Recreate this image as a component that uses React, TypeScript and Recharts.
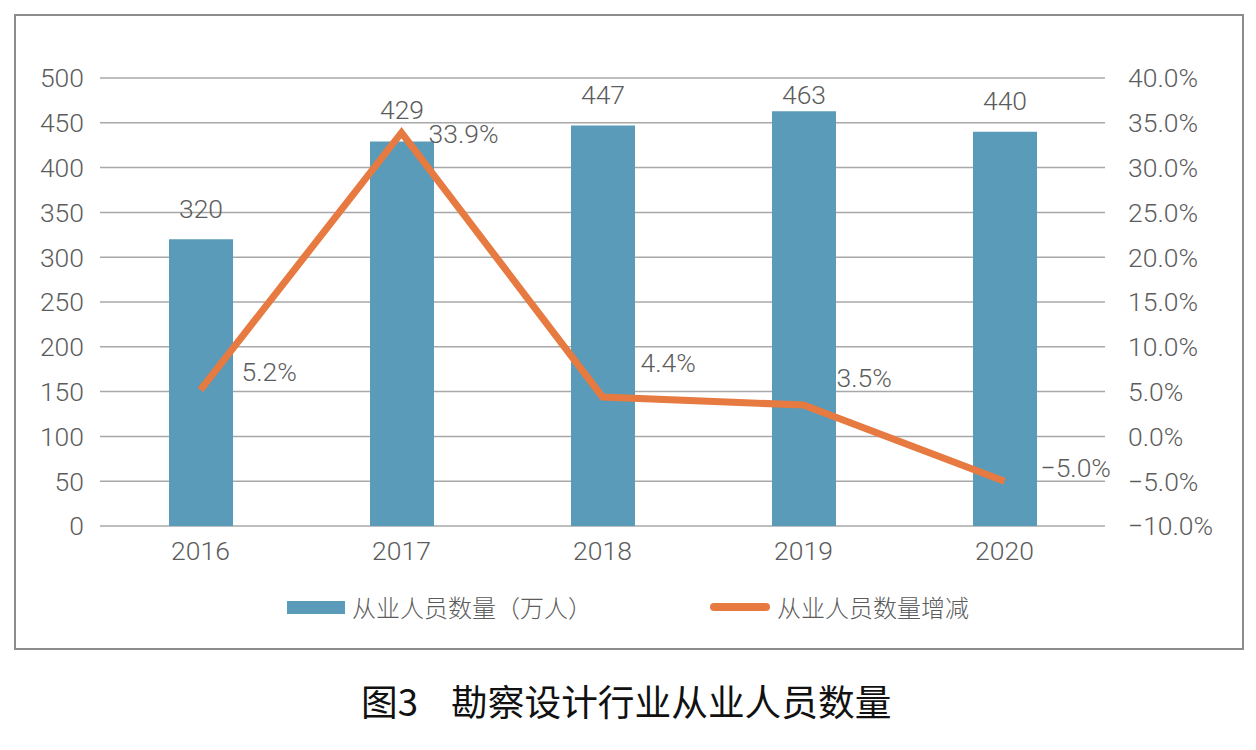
import React from 'react';
import { ComposedChart, Bar, Line, XAxis, YAxis, CartesianGrid, LabelList } from 'recharts';

const years = ['2016', '2017', '2018', '2019', '2020'];
const employees = [320, 429, 447, 463, 440];
const growth = [5.2, 33.9, 4.4, 3.5, -5.0];
const leftTicks = [0, 50, 100, 150, 200, 250, 300, 350, 400, 450, 500];
const rightTicks = [-10, -5, 0, 5, 10, 15, 20, 25, 30, 35, 40];

const barName = '从业人员数量（万人）';
const lineName = '从业人员数量增减';
const titleFig = '图3';
const titleText = '勘察设计行业从业人员数量';

// label offsets (styling only)
const growthLabelDx = [41, 27, 38, 33, 36];
const growthLabelDy = [-18, 1, -34, -28, -14];
const barLabelDy = [-31, -32, -31, -17, -31];

const data = years.map((y, i) => ({ year: y, emp: employees[i], gr: growth[i] }));

const BAR_COLOR = '#5A9BBA';
const LINE_COLOR = '#E67A40';
const TEXT_COLOR = '#5c5c5c';
const FONT = 'Roboto, "Liberation Sans", sans-serif';

const fmtPct = (v: number) => (v < 0 ? '\u2212' : '') + Math.abs(v).toFixed(1) + '%';

const GrowthLabel = (props: any) => {
  const { x, y, index, value } = props;
  return (
    <text
      x={x + growthLabelDx[index]}
      y={y + growthLabelDy[index]}
      dominantBaseline="central"
      textAnchor="start"
      fill={TEXT_COLOR}
      fontSize={26.5}
      fontWeight={300}
      fontFamily={FONT}
    >
      {fmtPct(value)}
    </text>
  );
};

const BarLabel = (props: any) => {
  const { x, y, width, index, value } = props;
  return (
    <text
      x={x + width / 2}
      y={y + barLabelDy[index]}
      dominantBaseline="central"
      textAnchor="middle"
      fill={TEXT_COLOR}
      fontSize={26.5}
      fontWeight={300}
      fontFamily={FONT}
    >
      {value}
    </text>
  );
};

const tickStyle = { fill: TEXT_COLOR, fontSize: 26.5, fontWeight: 300, fontFamily: FONT };

export default function App() {
  return (
    <div style={{ position: 'absolute', left: 0, top: 0, width: 1256, height: 750, background: '#fff' }}>
      <div
        style={{
          position: 'absolute',
          left: 14,
          top: 14,
          width: 1226,
          height: 632,
          border: '2px solid #8c8c8c',
        }}
      />
      <div style={{ position: 'absolute', left: 0, top: 0 }}>
        <ComposedChart
          width={1256}
          height={750}
          data={data}
          margin={{ top: 78, right: 0, left: 0, bottom: 194 }}
        >
          <CartesianGrid yAxisId="left" vertical={false} stroke="#a8a8a8" strokeWidth={1.5} />
          <XAxis
            dataKey="year"
            axisLine={false}
            tickLine={false}
            tickSize={0}
            tickMargin={15}
            height={30}
            tick={tickStyle}
          />
          <YAxis
            yAxisId="left"
            width={100}
            domain={[0, 500]}
            ticks={leftTicks}
            axisLine={false}
            tickLine={false}
            tickSize={0}
            tickMargin={16}
            tick={tickStyle}
          />
          <YAxis
            yAxisId="right"
            orientation="right"
            width={151}
            domain={[-10, 40]}
            ticks={rightTicks}
            axisLine={false}
            tickLine={false}
            tickSize={0}
            tickMargin={23}
            tickFormatter={fmtPct}
            tick={{ ...tickStyle, textAnchor: 'start' }}
          />
          <Bar yAxisId="left" dataKey="emp" fill={BAR_COLOR} barSize={64} isAnimationActive={false}>
            <LabelList dataKey="emp" content={<BarLabel />} />
          </Bar>
          <Line
            yAxisId="right"
            dataKey="gr"
            stroke={LINE_COLOR}
            strokeWidth={7}
            dot={false}
            activeDot={false}
            isAnimationActive={false}
          >
            <LabelList dataKey="gr" content={<GrowthLabel />} />
          </Line>
        </ComposedChart>
      </div>
      {/* Legend */}
      <div style={{ position: 'absolute', left: 287, top: 601, width: 58, height: 13, background: BAR_COLOR }} />
      <div
        style={{
          position: 'absolute',
          left: 352,
          top: 592,
          fontSize: 24,
          lineHeight: '30px',
          color: TEXT_COLOR,
          fontFamily: '"Noto Sans CJK SC", sans-serif',
          fontWeight: 300,
          whiteSpace: 'nowrap',
        }}
      >
        {barName}
      </div>
      <div
        style={{
          position: 'absolute',
          left: 710,
          top: 603,
          width: 60,
          height: 8,
          borderRadius: 4,
          background: LINE_COLOR,
        }}
      />
      <div
        style={{
          position: 'absolute',
          left: 777,
          top: 592,
          fontSize: 24,
          lineHeight: '30px',
          color: TEXT_COLOR,
          fontFamily: '"Noto Sans CJK SC", sans-serif',
          fontWeight: 300,
          whiteSpace: 'nowrap',
        }}
      >
        {lineName}
      </div>
      {/* Title */}
      <div
        style={{
          position: 'absolute',
          left: 361,
          top: 678,
          fontSize: 36.7,
          lineHeight: '44px',
          color: '#111',
          fontFamily: '"Noto Sans CJK SC", sans-serif',
          fontWeight: 400,
          whiteSpace: 'nowrap',
        }}
      >
        <span>{titleFig}</span>
        <span style={{ marginLeft: 33 }}>{titleText}</span>
      </div>
    </div>
  );
}
